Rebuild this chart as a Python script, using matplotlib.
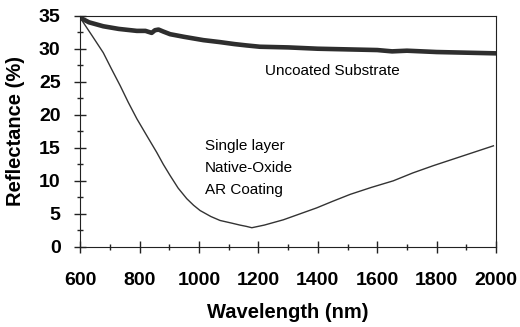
import numpy as np
import matplotlib.pyplot as plt
from matplotlib.ticker import MultipleLocator

plt.rcParams['font.family'] = ['Liberation Sans', 'DejaVu Sans']

# uncoated substrate
wl_sub = [600, 630, 678, 730, 791, 820, 841, 852, 864, 880, 903, 950, 1015, 1071,
          1120, 1160, 1205, 1300, 1400, 1500, 1600, 1650, 1700, 1800, 1900, 2000]
r_sub = [34.7, 34.0, 33.4, 33.0, 32.7, 32.7, 32.4, 32.8, 32.9, 32.6, 32.2, 31.8, 31.3, 31.0,
         30.7, 30.5, 30.3, 30.2, 30.0, 29.9, 29.8, 29.6, 29.7, 29.5, 29.4, 29.3]

# single layer native-oxide AR coating
wl_ar = [600, 640, 678, 705, 735, 762, 791, 825, 858, 880, 903, 930, 959, 982, 1004, 1040,
         1071, 1110, 1138, 1160, 1178, 1220, 1284, 1340, 1396, 1450, 1509, 1580, 1654,
         1720, 1789, 1890, 1991]
r_ar = [34.7, 32.0, 29.4, 27.0, 24.4, 21.9, 19.4, 16.8, 14.3, 12.5, 10.8, 8.9, 7.3, 6.3,
        5.5, 4.6, 4.0, 3.6, 3.3, 3.1, 2.9, 3.3, 4.1, 5.0, 5.9, 6.9, 7.95, 9.0, 10.0,
        11.2, 12.3, 13.8, 15.3]

fig = plt.figure(figsize=(5.2, 3.27), dpi=100)
ax = fig.add_axes([0.154, 0.245, 0.8, 0.707])

ax.plot(wl_sub, r_sub, color='#2e2e2e', lw=3.3)
ax.plot(wl_ar, r_ar, color='#333333', lw=1.0)

ax.set_xlim(600, 2000)
ax.set_ylim(0, 35)
ax.xaxis.set_major_locator(MultipleLocator(200))
ax.xaxis.set_minor_locator(MultipleLocator(100))
ax.yaxis.set_major_locator(MultipleLocator(5))
ax.yaxis.set_minor_locator(MultipleLocator(2.5))
ax.tick_params(which='both', direction='inout', top=False, right=False, color='#222222')
ax.tick_params(which='major', length=8, width=1, labelsize=14)
ax.tick_params(which='minor', length=5, width=1)
ax.tick_params(axis='x', which='major', pad=14)
ax.tick_params(axis='y', which='major', pad=10)
for lab in ax.get_xticklabels() + ax.get_yticklabels():
    lab.set_fontweight('bold')
for s in ax.spines.values():
    s.set_color('#222222')

ax.set_xlabel('Wavelength (nm)', fontsize=14.5, fontweight='bold', labelpad=10)
ax.set_ylabel('Reflectance (%)', fontsize=14.5, fontweight='bold', labelpad=10)

ax.text(1222, 26.7, 'Uncoated Substrate', fontsize=11, va='center')
ax.text(1021, 15.3, 'Single layer', fontsize=11, va='center')
ax.text(1021, 11.9, 'Native-Oxide', fontsize=11, va='center')
ax.text(1021, 8.6, 'AR Coating', fontsize=11, va='center')

fig.savefig('out.png', dpi=100)
